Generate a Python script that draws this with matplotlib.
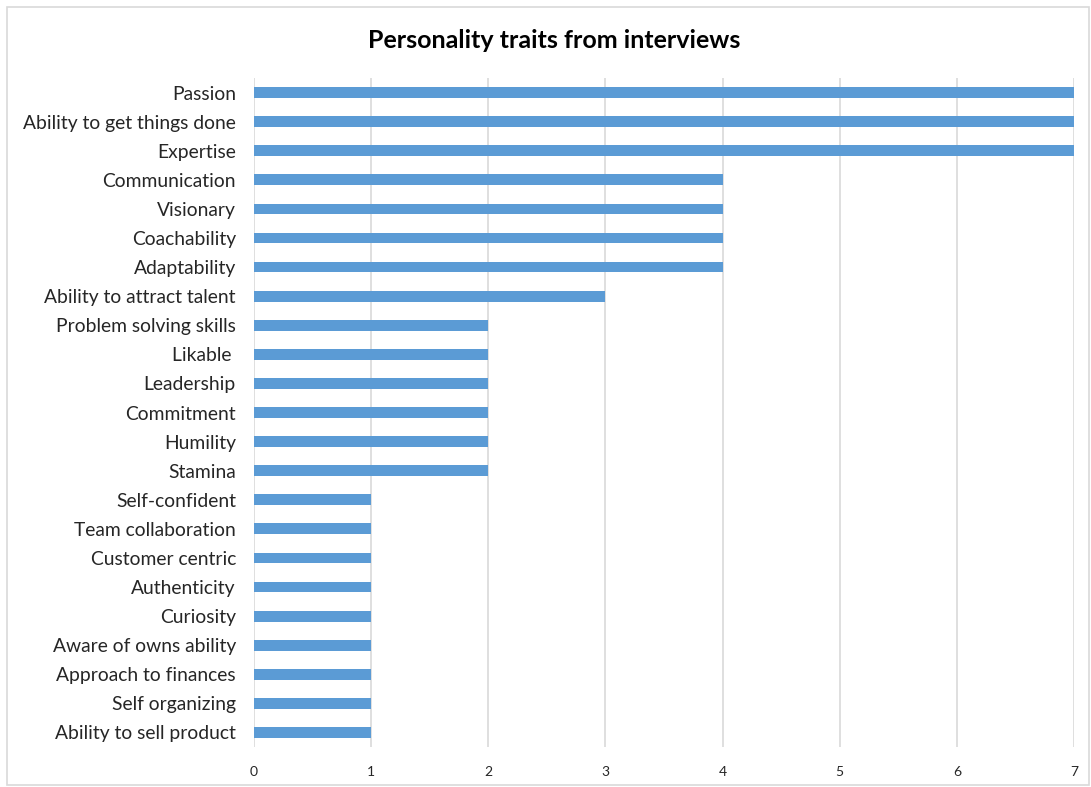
import matplotlib
matplotlib.use('Agg')
import matplotlib.pyplot as plt
from matplotlib.patches import Rectangle

plt.rcParams['font.family'] = ['Lato', 'DejaVu Sans']

traits = [
    "Passion", "Ability to get things done", "Expertise", "Communication",
    "Visionary", "Coachability", "Adaptability", "Ability to attract talent",
    "Problem solving skills", "Likable ", "Leadership", "Commitment",
    "Humility", "Stamina", "Self-confident", "Team collaboration",
    "Customer centric", "Authenticity", "Curiosity", "Aware of owns ability",
    "Approach to finances", "Self organizing", "Ability to sell product",
]
counts = [7, 7, 7, 4, 4, 4, 4, 3, 2, 2, 2, 2, 2, 2,
          1, 1, 1, 1, 1, 1, 1, 1, 1]
xticks = [0, 1, 2, 3, 4, 5, 6, 7]

BAR = '#5B9BD5'
GRID = '#D9D9D9'
TEXT = '#262626'

fig = plt.figure(figsize=(10.91, 7.87), dpi=100)
ax = fig.add_axes([0.2328, 0.0508, 0.7516, 0.8501])

pos = list(range(len(traits)))
ax.barh(pos, counts, height=0.37, color=BAR, zorder=3)
ax.set_ylim(len(traits) - 0.5, -0.5)
ax.set_xlim(0, 7)
ax.set_yticks(pos)
ax.set_yticklabels(traits, fontsize=13.9, color=TEXT)
ax.set_xticks(xticks)
ax.set_xticklabels([str(t) for t in xticks], fontsize=10, color=TEXT)
ax.tick_params(length=0)
ax.tick_params(axis='x', pad=14)
ax.tick_params(axis='y', pad=13)
ax.grid(axis='x', color=GRID, lw=1.2, zorder=0)
for s in ax.spines.values():
    s.set_visible(False)

fig.text(0.508, 0.949, "Personality traits from interviews", ha='center', va='center',
         fontsize=18, fontweight='bold', color='#000000')

# outer chart border
fig.patches.append(Rectangle((0.0064, 0.003), 0.9918, 0.988, transform=fig.transFigure,
                             fill=False, edgecolor='#D9D9D9', lw=1.2))

fig.savefig('out.png', dpi=100)
